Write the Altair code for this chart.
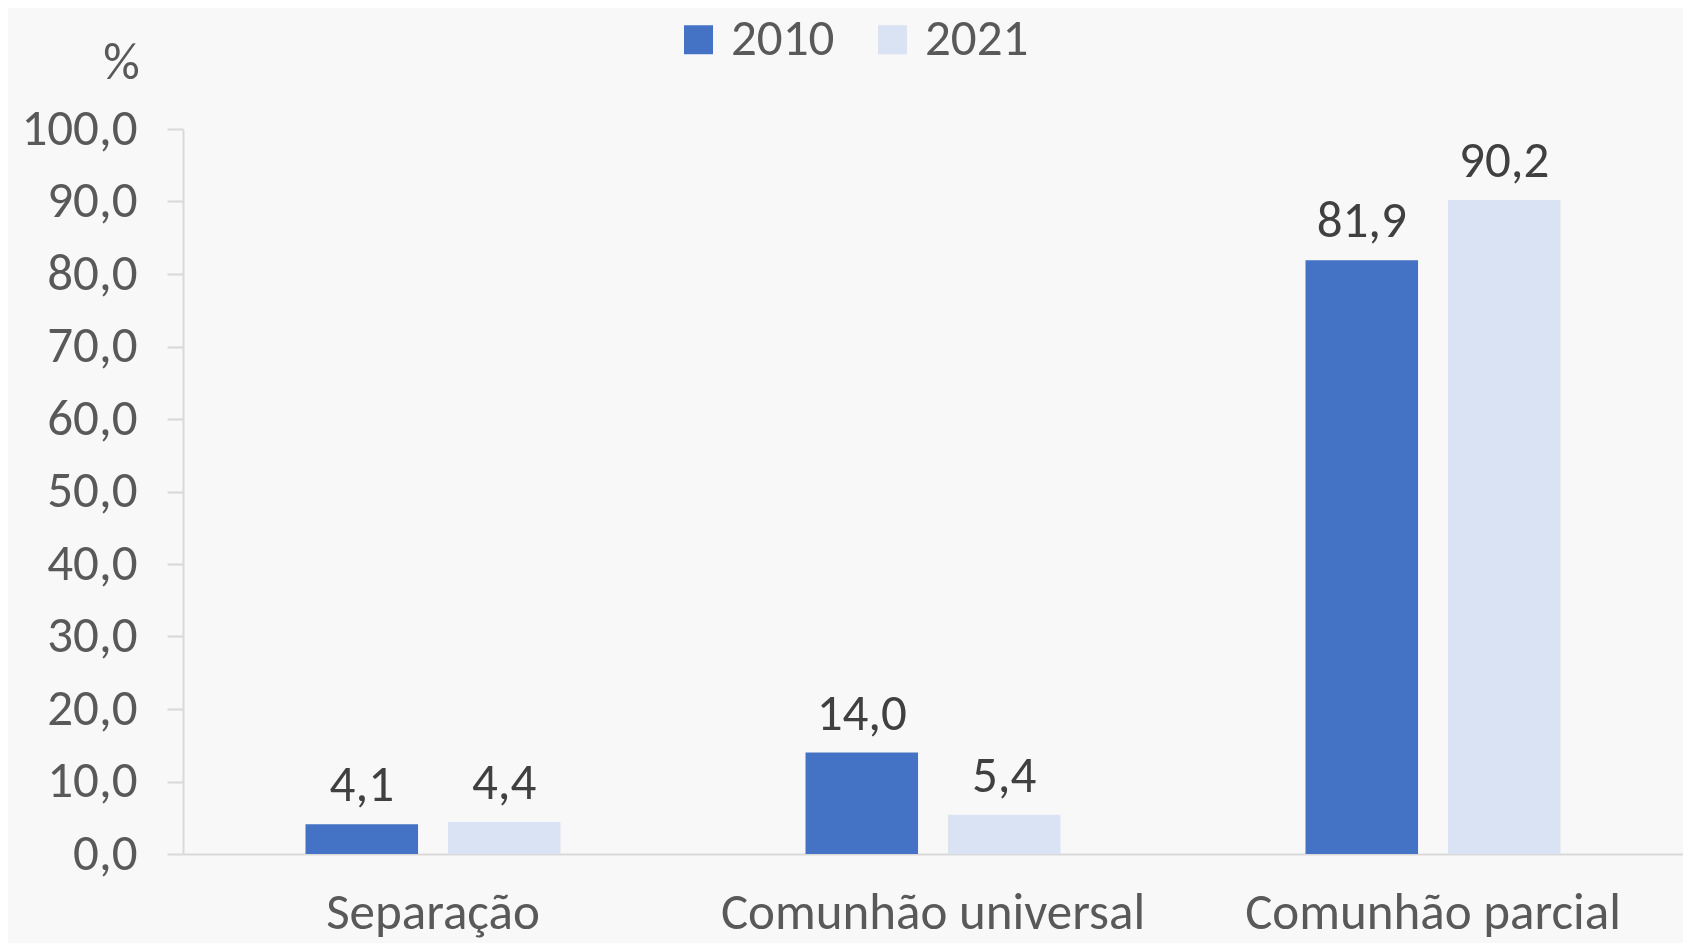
import altair as alt
import pandas as pd

categories = ["Separação", "Comunhão universal", "Comunhão parcial"]
years = ["2010", "2021"]
values_2010 = [4.1, 14.0, 81.9]
values_2021 = [4.4, 5.4, 90.2]
colors = ["#4472C4", "#DAE3F3"]

rows = []
for c, v1, v2 in zip(categories, values_2010, values_2021):
    rows.append({"cat": c, "ano": years[0], "valor": v1})
    rows.append({"cat": c, "ano": years[1], "valor": v2})
df = pd.DataFrame(rows)
df["rotulo"] = df["valor"].map(lambda v: f"{v:.1f}".replace(".", ","))

FONT = "Carlito, Calibri, Lato, sans-serif"
FS = 51

x = alt.X("cat:N", sort=categories, title=None,
          scale=alt.Scale(paddingInner=0.49, paddingOuter=0.245),
          axis=alt.Axis(labelAngle=0, labelFontSize=FS, labelColor="#595959",
                        labelFont=FONT, ticks=False, domainColor="#d9d9d9",
                        domainWidth=2, labelPadding=34, labelLimit=0))
xoff = alt.XOffset("ano:N", sort=years, scale=alt.Scale(paddingInner=0.21, paddingOuter=0))
y = alt.Y("valor:Q", scale=alt.Scale(domain=[0, 100], nice=False),
          axis=alt.Axis(values=list(range(0, 101, 10)), grid=False,
                        labelExpr="replace(format(datum.value, '.1f'), '.', ',')",
                        labelFontSize=FS, labelColor="#595959", labelFont=FONT,
                        tickSize=16, tickColor="#d9d9d9", tickWidth=2,
                        domainColor="#d9d9d9", domainWidth=2, labelPadding=30,
                        title="%", titleAngle=0, titleFontSize=FS,
                        titleFontWeight="normal", titleColor="#595959",
                        titleFont=FONT, titleX=-62, titleY=-66,
                        titleAlign="center", titleBaseline="middle"))

bars = alt.Chart(df).mark_bar().encode(
    x=x, xOffset=xoff, y=y,
    color=alt.Color("ano:N", sort=years,
                    scale=alt.Scale(domain=years, range=colors),
                    legend=alt.Legend(title=None, orient="none", direction="horizontal",
                                      legendX=490, legendY=-115,
                                      symbolType="square", symbolSize=841,
                                      symbolStrokeWidth=0,
                                      labelFontSize=FS, labelColor="#595959",
                                      labelFont=FONT, columnPadding=32,
                                      labelOffset=7)),
)

labels = alt.Chart(df).mark_text(baseline="bottom", dy=-12, fontSize=FS,
                                 color="#404040", font=FONT).encode(
    x=x, xOffset=xoff, y=y, text="rotulo:N")

chart = (bars + labels).properties(
    width=1500, height=725,
    background="#f8f8f8",
    padding={"left": 175, "top": 121, "right": 0, "bottom": 89},
    autosize=alt.AutoSizeParams(type="none"),
).configure_view(stroke=None)

chart.save("out.html", embed_options={"renderer": "svg", "actions": False})
